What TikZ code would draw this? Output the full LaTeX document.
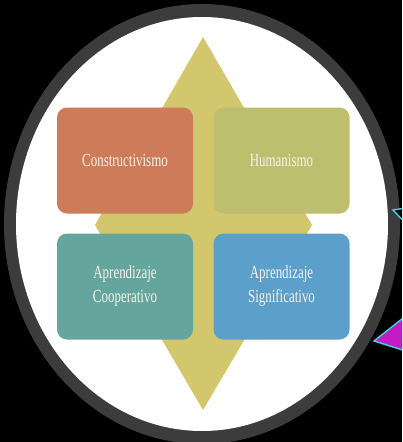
\documentclass[tikz,border=0pt]{standalone}
\usepackage{fontspec}
\usepackage{graphicx}
\setmainfont{Liberation Serif}
\definecolor{ringc}{HTML}{3C3C3C}
\definecolor{diamc}{HTML}{D2C76C}
\definecolor{consc}{HTML}{CD7B58}
\definecolor{humc}{HTML}{BDBF6F}
\definecolor{coopc}{HTML}{64A69D}
\definecolor{sigc}{HTML}{5C9FCA}
\definecolor{magc}{HTML}{C41CC4}
\definecolor{cyanc}{HTML}{3FD3E6}
\definecolor{txtc}{HTML}{F7F2EA}
\newcommand\sx[1]{\scalebox{0.7}[1]{#1}}
\begin{document}
\begin{tikzpicture}[x=1pt,y=-1pt,
  box/.style={rounded corners=10pt, minimum width=136pt, minimum height=106pt,
    text=txtc, font=\fontsize{18.5}{24}\selectfont, align=center, inner sep=0pt},
  arr/.style={draw=cyanc, line width=1.4pt, line join=miter}]
\fill[black] (0,0) rectangle (402,442);
\useasboundingbox (0,0) rectangle (402,442);
\begin{scope}
\clip (0,0) rectangle (402,442);
\fill[ringc] (202,224) ellipse [x radius=198, y radius=220];
\fill[white] (202,224) ellipse [x radius=186, y radius=207];
\fill[diamc] (203,37) -- (312,225) -- (203,410) -- (95,225) -- cycle;
\node[box, fill=consc] (cons) at (125,160.5) {\sx{Constructivismo}};
\node[box, fill=humc] (hum) at (281.5,160.5) {\sx{Humanismo}};
\node[box, fill=coopc] (coop) at (125,286.5) {\sx{Aprendizaje}\\\sx{Cooperativo}};
\node[box, fill=sigc] (sig) at (281.5,286.5) {\sx{Aprendizaje}\\\sx{Significativo}};
\filldraw[arr, fill=black] (393,210) -- (412,207) -- (412,230) -- cycle;
\filldraw[arr, fill=magc] (374,341) -- (412,311) -- (412,353) -- cycle;
\end{scope}
\end{tikzpicture}
\end{document}
